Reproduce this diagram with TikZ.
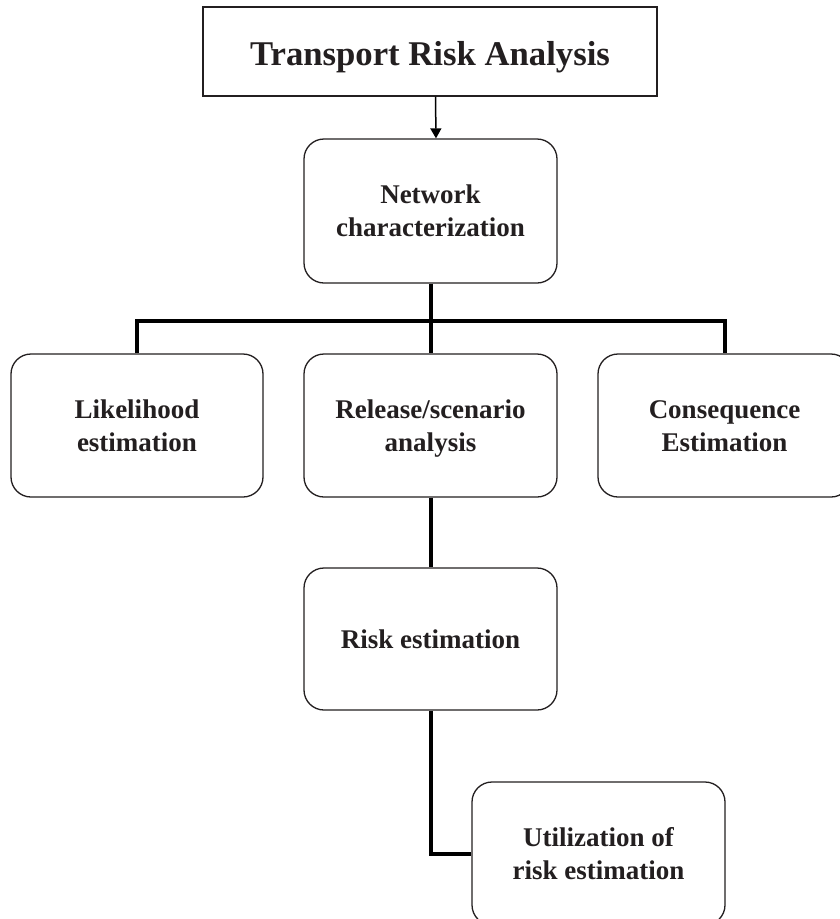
\documentclass[tikz,border=0pt]{standalone}
\usepackage{fontspec}
\setmainfont{Liberation Serif}
\usetikzlibrary{arrows.meta}
\definecolor{ink}{HTML}{231F20}
% struts that centre the cap height of a label block in its box
\newcommand{\topstrut}{\rule{0pt}{26pt}}
\newcommand{\botstrut}{\rule[-8pt]{0pt}{8pt}}
\newcommand{\twoline}[2]{\topstrut #1\\#2\botstrut}
\newcommand{\oneline}[1]{\topstrut #1\botstrut}
\begin{document}
\begin{tikzpicture}[x=1pt,y=-1pt,
  box/.style={draw=ink, line width=1.3pt, fill=white, inner sep=0pt, align=center,
    text=ink, font=\fontsize{27}{33}\selectfont\bfseries},
  stage/.style={box, rounded corners=20pt, minimum width=253pt, minimum height=143pt},
  conn/.style={draw=black, line width=4pt},
  feed/.style={draw=black, line width=1.5pt, -{Triangle[length=10pt,width=11pt]}}]
  \useasboundingbox (0,0) rectangle (840,919);
  \clip (0,0) rectangle (840,919);

  % title and first stage
  \node[box, minimum width=454pt, minimum height=89pt,
        font=\fontsize{34.7}{40}\selectfont\bfseries] (title) at (430,51.5)
        {\rule{0pt}{37pt}Transport Risk Analysis\rule[-10pt]{0pt}{10pt}};
  \node[stage, minimum height=144pt] (net) at (430.5,211) {\twoline{Network}{characterization}};

  % three parallel stages
  \node[stage, minimum width=252pt] (like) at (137,425.5) {\twoline{Likelihood}{estimation}};
  \node[stage] (rel)  at (430.5,425.5) {\twoline{Release/scenario}{analysis}};
  \node[stage] (cons) at (724.5,425.5) {\twoline{Consequence}{Estimation}};

  % final stages
  \node[stage, minimum height=142pt] (risk) at (430.5,639) {\oneline{Risk estimation}};
  \node[stage] (util) at (598.5,853.5) {\twoline{Utilization of}{risk estimation}};

  % connectors
  \coordinate (bus) at (430.5,321);
  \draw[feed] ([xshift=5.5pt]title.south) -- ([xshift=5.5pt]net.north);
  \draw[conn] (net.south) -- (rel.north);
  \draw[conn] (like.north) |- (bus) -| (cons.north);
  \draw[conn] (rel.south) -- (risk.north);
  \draw[conn] (risk.south) |- (util.west);
\end{tikzpicture}
\end{document}
